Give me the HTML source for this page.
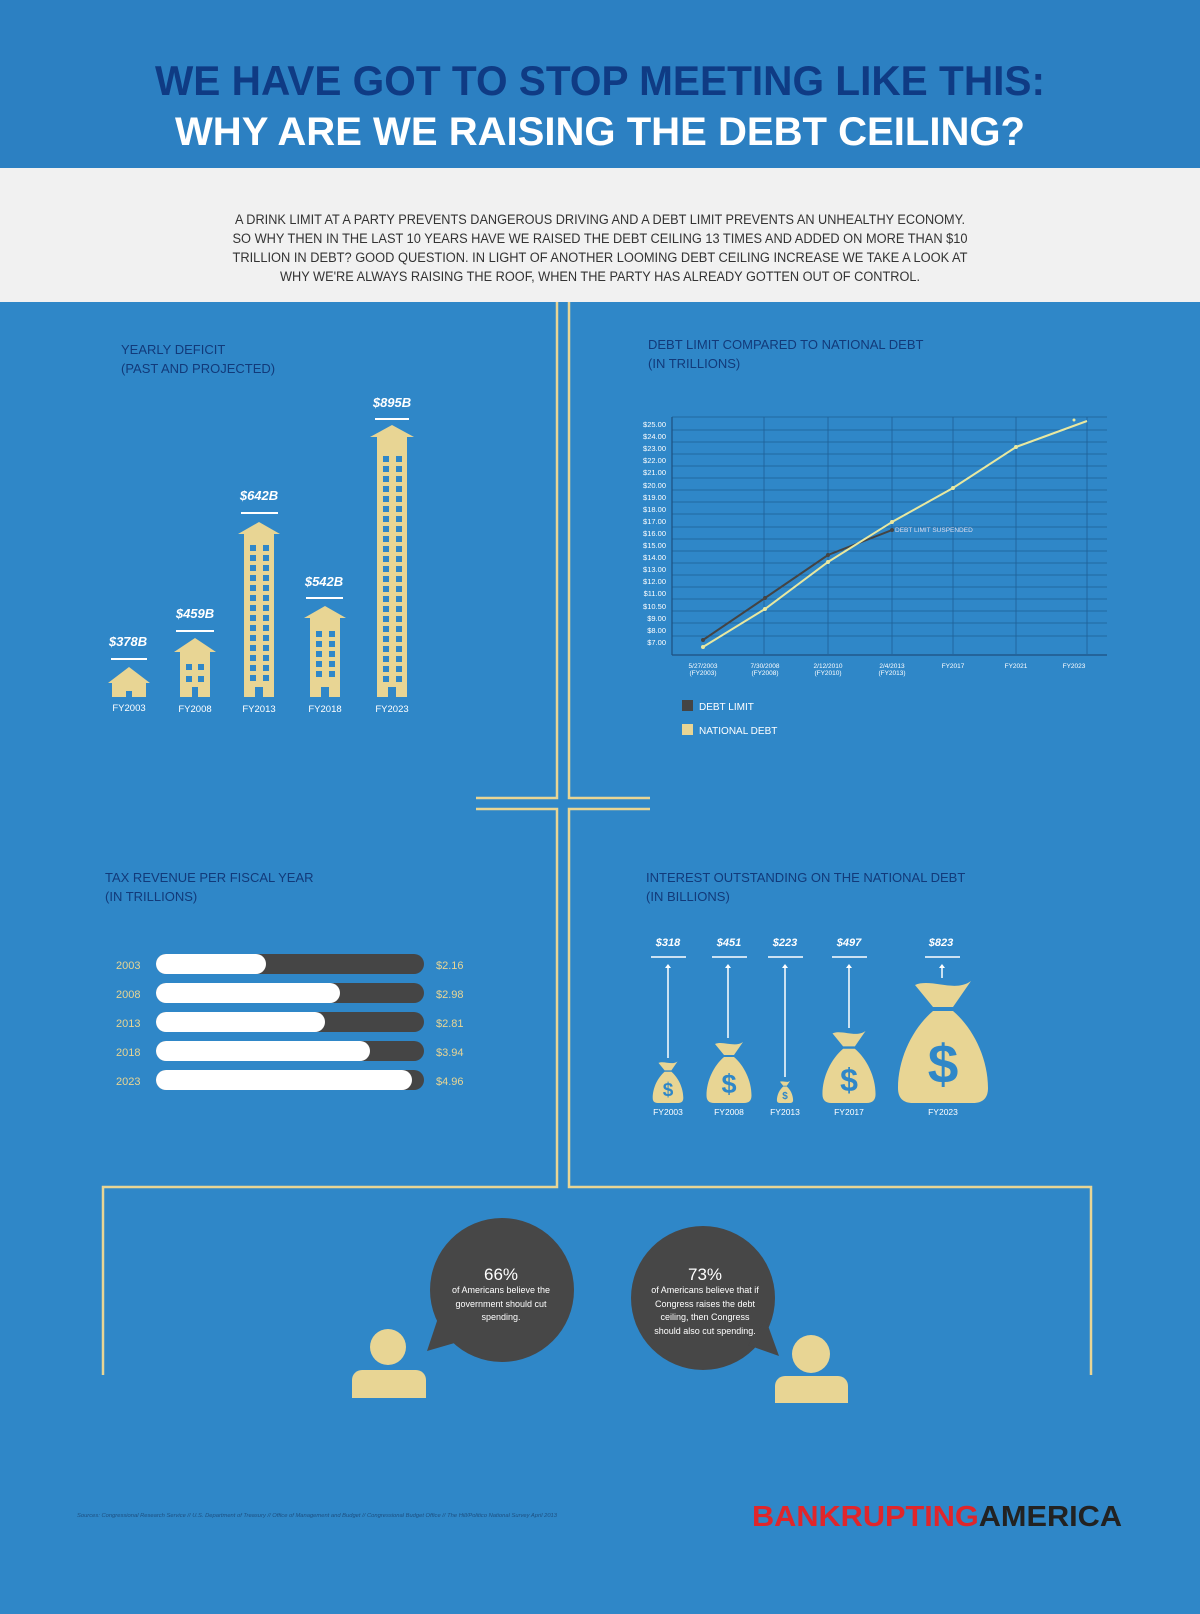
<!DOCTYPE html>
<html><head><meta charset="utf-8"><style>
body{margin:0;width:1200px;height:1614px;overflow:hidden;background:#2f87c8;font-family:"Liberation Sans",sans-serif}
svg{display:block}
</style></head><body>
<svg width="1200" height="1614" viewBox="0 0 1200 1614" xmlns="http://www.w3.org/2000/svg" font-family="Liberation Sans, sans-serif">
<defs>
<path id="bag" d="M-28,-118C-12,-125 12,-110 28,-122L10,-96H-10ZM-10,-92H10C30,-75 45,-45 45,-15C45,-5 40,0 30,0H-30C-40,0 -45,-5 -45,-15C-45,-45 -30,-75 -10,-92Z"/>
<g id="w2"><rect x="0" y="0" width="6" height="6"/><rect x="13" y="0" width="6" height="6"/></g>
</defs>
<rect width="1200" height="1614" fill="#2f87c8"/>
<rect width="1200" height="168" fill="#2c80c2"/>
<text x="600" y="95" text-anchor="middle" font-size="42" font-weight="bold" fill="#0f3b84" textLength="890" lengthAdjust="spacingAndGlyphs">WE HAVE GOT TO STOP MEETING LIKE THIS:</text>
<text x="600" y="145" text-anchor="middle" font-size="40" font-weight="bold" fill="#fff" textLength="850" lengthAdjust="spacingAndGlyphs">WHY ARE WE RAISING THE DEBT CEILING?</text>
<rect y="168" width="1200" height="134" fill="#f1f1f1"/>
<g font-size="13.5" fill="#333" text-anchor="middle">
<text x="600" y="224" textLength="730" lengthAdjust="spacingAndGlyphs">A DRINK LIMIT AT A PARTY PREVENTS DANGEROUS DRIVING AND A DEBT LIMIT PREVENTS AN UNHEALTHY ECONOMY.</text>
<text x="600" y="243" textLength="735" lengthAdjust="spacingAndGlyphs">SO WHY THEN IN THE LAST 10 YEARS HAVE WE RAISED THE DEBT CEILING 13 TIMES AND ADDED ON MORE THAN $10</text>
<text x="600" y="262" textLength="735" lengthAdjust="spacingAndGlyphs">TRILLION IN DEBT? GOOD QUESTION. IN LIGHT OF ANOTHER LOOMING DEBT CEILING INCREASE WE TAKE A LOOK AT</text>
<text x="600" y="281" textLength="640" lengthAdjust="spacingAndGlyphs">WHY WE'RE ALWAYS RAISING THE ROOF, WHEN THE PARTY HAS ALREADY GOTTEN OUT OF CONTROL.</text>
</g>
<g stroke="#e8d594" stroke-width="2.5" fill="none">
<path d="M557 302V798H476"/><path d="M569 302V798H650"/>
<path d="M476 809H557V1187H103V1375"/><path d="M650 809H569V1187H1091V1375"/>
</g>
<g font-size="13" fill="#123a7a">
<text x="121" y="354">YEARLY DEFICIT</text><text x="121" y="373">(PAST AND PROJECTED)</text>
<text x="648" y="349">DEBT LIMIT COMPARED TO NATIONAL DEBT</text><text x="648" y="368">(IN TRILLIONS)</text>
<text x="105" y="882">TAX REVENUE PER FISCAL YEAR</text><text x="105" y="901"> (IN TRILLIONS)</text>
<text x="646" y="882">INTEREST OUTSTANDING ON THE NATIONAL DEBT</text><text x="646" y="901">(IN BILLIONS)</text>
</g>
<g fill="#e8d594">
<polygon points="108,683 129,667 150,683 146,683 146,697 112,697 112,683"/>
<polygon points="174,652 195,638 216,652 210,652 210,697 180,697 180,652"/>
<polygon points="238,534 259,522 280,534 274,534 274,697 244,697 244,534"/>
<polygon points="304,618 325,606 346,618 340,618 340,697 310,697 310,618"/>
<polygon points="370,437 392,425 414,437 407,437 407,697 377,697 377,437"/>
</g>
<g fill="#2f87c8">
<rect x="126" y="691" width="6" height="6"/>
<rect x="186" y="664" width="6" height="6"/><rect x="198" y="664" width="6" height="6"/><rect x="186" y="676" width="6" height="6"/><rect x="198" y="676" width="6" height="6"/><rect x="192" y="687" width="6" height="10"/>
<rect x="255" y="687" width="8" height="10"/><rect x="321" y="687" width="8" height="10"/><rect x="388" y="687" width="8" height="10"/>
<use href="#w2" x="250" y="545"/><use href="#w2" x="250" y="555"/><use href="#w2" x="250" y="565"/><use href="#w2" x="250" y="575"/><use href="#w2" x="250" y="585"/><use href="#w2" x="250" y="595"/><use href="#w2" x="250" y="605"/><use href="#w2" x="250" y="615"/><use href="#w2" x="250" y="625"/><use href="#w2" x="250" y="635"/><use href="#w2" x="250" y="645"/><use href="#w2" x="250" y="655"/><use href="#w2" x="250" y="665"/><use href="#w2" x="250" y="675"/>
<use href="#w2" x="316" y="631"/><use href="#w2" x="316" y="641"/><use href="#w2" x="316" y="651"/><use href="#w2" x="316" y="661"/><use href="#w2" x="316" y="671"/>
<use href="#w2" x="383" y="456"/><use href="#w2" x="383" y="466"/><use href="#w2" x="383" y="476"/><use href="#w2" x="383" y="486"/><use href="#w2" x="383" y="496"/><use href="#w2" x="383" y="506"/><use href="#w2" x="383" y="516"/><use href="#w2" x="383" y="526"/><use href="#w2" x="383" y="536"/><use href="#w2" x="383" y="546"/><use href="#w2" x="383" y="556"/><use href="#w2" x="383" y="566"/><use href="#w2" x="383" y="576"/><use href="#w2" x="383" y="586"/><use href="#w2" x="383" y="596"/><use href="#w2" x="383" y="606"/><use href="#w2" x="383" y="616"/><use href="#w2" x="383" y="626"/><use href="#w2" x="383" y="636"/><use href="#w2" x="383" y="646"/><use href="#w2" x="383" y="656"/><use href="#w2" x="383" y="666"/><use href="#w2" x="383" y="676"/>
</g>
<g stroke="#fff" stroke-width="2"><line x1="111" y1="659" x2="147" y2="659"/><line x1="176" y1="631" x2="214" y2="631"/><line x1="241" y1="513" x2="278" y2="513"/><line x1="306" y1="598" x2="343" y2="598"/><line x1="375" y1="419" x2="409" y2="419"/></g>
<g font-size="13" font-weight="bold" font-style="italic" fill="#fff" text-anchor="middle">
<text x="128" y="646">$378B</text><text x="195" y="618">$459B</text><text x="259" y="500">$642B</text><text x="324" y="586">$542B</text><text x="392" y="407">$895B</text></g>
<g font-size="9.5" fill="#fff" text-anchor="middle"><text x="129" y="711">FY2003</text><text x="195" y="712">FY2008</text><text x="259" y="712">FY2013</text><text x="325" y="712">FY2018</text><text x="392" y="712">FY2023</text></g>
<!-- line chart -->
<g stroke="#1f5f95" stroke-width="0.8">
<line x1="672" y1="417" x2="1107" y2="417"/>
<line x1="672" y1="430" x2="1107" y2="430"/><line x1="672" y1="442" x2="1107" y2="442"/><line x1="672" y1="454" x2="1107" y2="454"/><line x1="672" y1="466" x2="1107" y2="466"/><line x1="672" y1="478" x2="1107" y2="478"/><line x1="672" y1="490" x2="1107" y2="490"/><line x1="672" y1="502" x2="1107" y2="502"/><line x1="672" y1="514" x2="1107" y2="514"/><line x1="672" y1="527" x2="1107" y2="527"/><line x1="672" y1="539" x2="1107" y2="539"/><line x1="672" y1="551" x2="1107" y2="551"/><line x1="672" y1="563" x2="1107" y2="563"/><line x1="672" y1="575" x2="1107" y2="575"/><line x1="672" y1="587" x2="1107" y2="587"/><line x1="672" y1="599" x2="1107" y2="599"/><line x1="672" y1="611" x2="1107" y2="611"/><line x1="672" y1="623" x2="1107" y2="623"/><line x1="672" y1="636" x2="1107" y2="636"/>
<line x1="764" y1="417" x2="764" y2="654"/><line x1="828" y1="417" x2="828" y2="654"/><line x1="892" y1="417" x2="892" y2="654"/><line x1="953" y1="417" x2="953" y2="654"/><line x1="1016" y1="417" x2="1016" y2="654"/><line x1="1087" y1="417" x2="1087" y2="654"/>
</g>
<line x1="672" y1="417" x2="672" y2="655" stroke="#1d4f80" stroke-width="1.2"/><line x1="672" y1="655" x2="1107" y2="655" stroke="#1d4f80" stroke-width="1.2"/>
<g font-size="7.5" fill="#fff" text-anchor="end">
<text x="666" y="427">$25.00</text><text x="666" y="439">$24.00</text><text x="666" y="451">$23.00</text><text x="666" y="463">$22.00</text><text x="666" y="475">$21.00</text><text x="666" y="488">$20.00</text><text x="666" y="500">$19.00</text><text x="666" y="512">$18.00</text><text x="666" y="524">$17.00</text><text x="666" y="536">$16.00</text><text x="666" y="548">$15.00</text><text x="666" y="560">$14.00</text><text x="666" y="572">$13.00</text><text x="666" y="584">$12.00</text><text x="666" y="596">$11.00</text><text x="666" y="609">$10.50</text><text x="666" y="621">$9.00</text><text x="666" y="633">$8.00</text><text x="666" y="645">$7.00</text>
</g>
<polyline points="703,640 765,598 828,555 892,530" fill="none" stroke="#444" stroke-width="2"/>
<g fill="#444"><circle cx="703" cy="640" r="2"/><circle cx="765" cy="598" r="2"/><circle cx="828" cy="555" r="2"/><circle cx="892" cy="530" r="2"/></g>
<polyline points="703,647 765,609 828,562 892,522 953,488 1016,447 1087,421" fill="none" stroke="#e8e8a0" stroke-width="2"/>
<g fill="#e8e8a0"><circle cx="703" cy="647" r="2"/><circle cx="765" cy="609" r="2"/><circle cx="828" cy="562" r="2"/><circle cx="892" cy="522" r="2"/><circle cx="953" cy="488" r="2"/><circle cx="1016" cy="447" r="2"/><circle cx="1074" cy="420" r="1.5"/></g>
<text x="895" y="532" font-size="6.5" fill="#dde">DEBT LIMIT SUSPENDED</text>
<g font-size="6.5" fill="#fff" text-anchor="middle">
<text x="703" y="668">5/27/2003</text><text x="703" y="675">(FY2003)</text>
<text x="765" y="668">7/30/2008</text><text x="765" y="675">(FY2008)</text>
<text x="828" y="668">2/12/2010</text><text x="828" y="675">(FY2010)</text>
<text x="892" y="668">2/4/2013</text><text x="892" y="675">(FY2013)</text>
<text x="953" y="668">FY2017</text><text x="1016" y="668">FY2021</text><text x="1074" y="668">FY2023</text></g>
<rect x="682" y="700" width="11" height="11" fill="#444"/><text x="699" y="710" font-size="10" fill="#fff">DEBT LIMIT</text>
<rect x="682" y="724" width="11" height="11" fill="#e8d594"/><text x="699" y="734" font-size="10" fill="#fff">NATIONAL DEBT</text>
<!-- tax bars -->
<g font-size="11" fill="#e8d594">
<text x="116" y="969">2003</text><text x="116" y="998">2008</text><text x="116" y="1027">2013</text><text x="116" y="1056">2018</text><text x="116" y="1085">2023</text>
<text x="436" y="969">$2.16</text><text x="436" y="998">$2.98</text><text x="436" y="1027">$2.81</text><text x="436" y="1056">$3.94</text><text x="436" y="1085">$4.96</text></g>
<g fill="#454545"><rect x="156" y="954" width="268" height="20" rx="10"/><rect x="156" y="983" width="268" height="20" rx="10"/><rect x="156" y="1012" width="268" height="20" rx="10"/><rect x="156" y="1041" width="268" height="20" rx="10"/><rect x="156" y="1070" width="268" height="20" rx="10"/></g>
<g fill="#fff"><rect x="156" y="954" width="110" height="20" rx="10"/><rect x="156" y="983" width="184" height="20" rx="10"/><rect x="156" y="1012" width="169" height="20" rx="10"/><rect x="156" y="1041" width="214" height="20" rx="10"/><rect x="156" y="1070" width="256" height="20" rx="10"/></g>
<!-- money bags -->
<g font-size="11" font-weight="bold" font-style="italic" fill="#fff" text-anchor="middle">
<text x="668" y="946">$318</text><text x="729" y="946">$451</text><text x="785" y="946">$223</text><text x="849" y="946">$497</text><text x="941" y="946">$823</text></g>
<g stroke="#fff" stroke-width="1.5"><line x1="651" y1="957" x2="686" y2="957"/><line x1="712" y1="957" x2="747" y2="957"/><line x1="768" y1="957" x2="803" y2="957"/><line x1="832" y1="957" x2="867" y2="957"/><line x1="925" y1="957" x2="960" y2="957"/>
<line x1="668" y1="966" x2="668" y2="1058"/><line x1="728" y1="966" x2="728" y2="1038"/><line x1="785" y1="966" x2="785" y2="1077"/><line x1="849" y1="966" x2="849" y2="1028"/><line x1="942" y1="966" x2="942" y2="978"/></g>
<g fill="#fff"><path d="M665 968l3-4 3 4z"/><path d="M725 968l3-4 3 4z"/><path d="M782 968l3-4 3 4z"/><path d="M846 968l3-4 3 4z"/><path d="M939 968l3-4 3 4z"/></g>
<g fill="#e8d594">
<use href="#bag" transform="translate(668,1103) scale(0.34)"/>
<use href="#bag" transform="translate(729,1103) scale(0.5)"/>
<use href="#bag" transform="translate(785,1103) scale(0.18)"/>
<use href="#bag" transform="translate(849,1103) scale(0.59)"/>
<use href="#bag" transform="translate(943,1103) scale(1)"/>
</g>
<g fill="#2f87c8" text-anchor="middle" font-weight="bold">
<text x="668" y="1096" font-size="19">$</text><text x="729" y="1093" font-size="27">$</text><text x="785" y="1099" font-size="10">$</text><text x="849" y="1091" font-size="32">$</text><text x="943" y="1083" font-size="55">$</text></g>
<g font-size="8.5" fill="#fff" text-anchor="middle"><text x="668" y="1115">FY2003</text><text x="729" y="1115">FY2008</text><text x="785" y="1115">FY2013</text><text x="849" y="1115">FY2017</text><text x="943" y="1115">FY2023</text></g>
<!-- bubbles -->
<g fill="#474747">
<circle cx="502" cy="1290" r="72"/><path d="M427 1351L438 1318L458 1342Z"/>
<circle cx="703" cy="1298" r="72"/><path d="M779 1356L766 1320L748 1345Z"/>
</g>
<g fill="#e8d594">
<circle cx="388" cy="1347" r="18"/><path d="M352 1380a10 10 0 0 1 10-10h54a10 10 0 0 1 10 10v18h-74z"/>
<circle cx="811" cy="1354" r="19"/><path d="M775 1386a10 10 0 0 1 10-10h53a10 10 0 0 1 10 10v17h-73z"/>
</g>
<g fill="#fff" text-anchor="middle">
<text x="501" y="1280" font-size="17">66%</text>
<g font-size="9"><text x="501" y="1293">of Americans believe the</text><text x="501" y="1307">government should cut</text><text x="501" y="1320">spending.</text></g>
<text x="705" y="1280" font-size="17">73%</text>
<g font-size="9"><text x="705" y="1293">of Americans believe that if</text><text x="705" y="1307">Congress raises the debt</text><text x="705" y="1320">ceiling, then Congress</text><text x="705" y="1334">should also cut spending.</text></g>
</g>
<text x="77" y="1517" font-size="5" font-style="italic" fill="#1d4f80" textLength="480" lengthAdjust="spacingAndGlyphs">Sources: Congressional Research Service // U.S. Department of Treasury // Office of Management and Budget // Congressional Budget Office // The Hill/Politico National Survey April 2013</text>
<text x="752" y="1526" font-size="29" font-weight="bold" textLength="370" lengthAdjust="spacingAndGlyphs"><tspan fill="#e0262b">BANKRUPTING</tspan><tspan fill="#222">AMERICA</tspan></text>
</svg>
</body></html>
